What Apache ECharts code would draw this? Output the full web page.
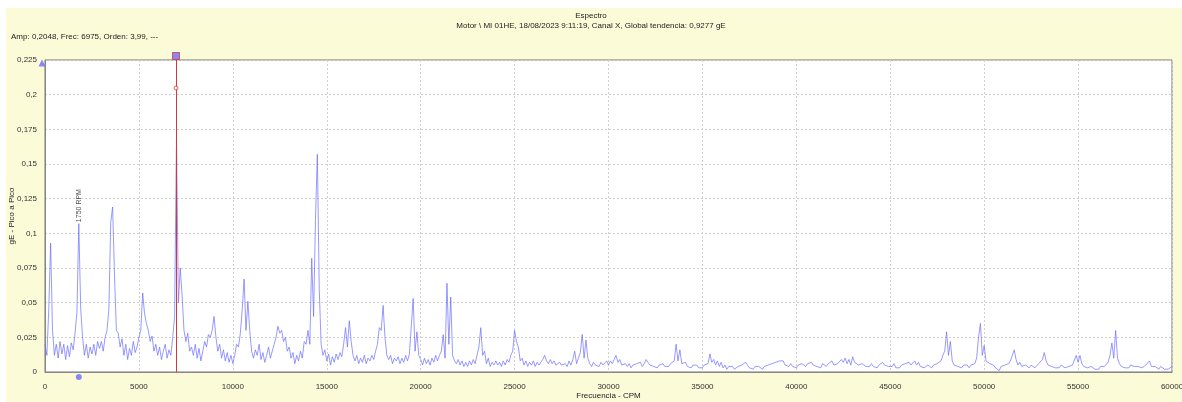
<!DOCTYPE html>
<html>
<head>
<meta charset="utf-8">
<script src="https://cdn.jsdelivr.net/npm/echarts@6/dist/echarts.min.js"></script>
<style>
html,body{margin:0;padding:0;background:#fff;}
#chart{width:1182px;height:402px;}
</style>
</head>
<body>
<div id="chart"></div>
<script>
// ---- data ----
const titleText = 'Espectro';
const subtitleText = 'Motor \\ MI 01HE, 18/08/2023 9:11:19, Canal X, Global tendencia: 0,9277 gE';
const cursorText = 'Amp: 0,2048, Frec: 6975, Orden: 3,99, ---';
const xAxisName = 'Frecuencia - CPM';
const yAxisName = 'gE - Pico a Pico';
const freqStart = 0;      // CPM of first spectral line
const freqStep = 100;     // CPM between spectral lines
const amps = [
  0.020,0.012,0.045,0.093,0.030,0.012,0.020,0.010,0.022,0.013,
  0.020,0.009,0.019,0.011,0.021,0.016,0.028,0.043,0.107,0.046,
  0.025,0.012,0.020,0.010,0.018,0.013,0.020,0.012,0.022,0.017,
  0.022,0.015,0.025,0.030,0.045,0.108,0.119,0.070,0.030,0.028,
  0.018,0.024,0.012,0.020,0.009,0.017,0.012,0.022,0.014,0.018,
  0.025,0.030,0.057,0.042,0.035,0.030,0.022,0.026,0.015,0.020,
  0.012,0.018,0.009,0.015,0.020,0.010,0.016,0.012,0.025,0.040,
  0.170,0.050,0.075,0.055,0.030,0.022,0.028,0.015,0.018,0.012,
  0.020,0.010,0.017,0.008,0.015,0.022,0.018,0.027,0.025,0.030,
  0.040,0.025,0.015,0.020,0.010,0.016,0.008,0.014,0.007,0.012,
  0.006,0.012,0.020,0.018,0.028,0.045,0.067,0.030,0.051,0.030,
  0.015,0.010,0.016,0.012,0.020,0.009,0.014,0.007,0.012,0.018,
  0.010,0.015,0.020,0.025,0.033,0.028,0.030,0.022,0.025,0.015,
  0.018,0.010,0.014,0.006,0.012,0.008,0.015,0.010,0.022,0.020,
  0.030,0.020,0.082,0.040,0.110,0.157,0.060,0.020,0.012,0.016,
  0.008,0.013,0.005,0.011,0.007,0.013,0.009,0.014,0.011,0.020,
  0.032,0.018,0.037,0.022,0.012,0.008,0.012,0.006,0.010,0.007,
  0.012,0.006,0.010,0.008,0.012,0.009,0.015,0.020,0.032,0.030,
  0.048,0.025,0.012,0.009,0.012,0.006,0.010,0.008,0.011,0.006,
  0.010,0.007,0.012,0.008,0.013,0.012,0.053,0.015,0.029,0.012,
  0.009,0.005,0.010,0.006,0.009,0.005,0.010,0.007,0.012,0.008,
  0.012,0.015,0.027,0.010,0.064,0.020,0.054,0.012,0.008,0.006,
  0.009,0.005,0.008,0.004,0.007,0.004,0.008,0.005,0.009,0.006,
  0.012,0.018,0.032,0.012,0.015,0.006,0.010,0.004,0.007,0.005,
  0.008,0.005,0.007,0.004,0.008,0.005,0.009,0.007,0.012,0.015,
  0.030,0.022,0.018,0.008,0.010,0.005,0.008,0.004,0.007,0.005,
  0.008,0.004,0.007,0.005,0.006,0.009,0.012,0.008,0.006,0.009,
  0.006,0.008,0.005,0.004,0.007,0.005,0.004,0.006,0.004,0.008,
  0.005,0.009,0.015,0.006,0.010,0.014,0.027,0.010,0.023,0.010,
  0.006,0.004,0.007,0.005,0.006,0.004,0.007,0.005,0.006,0.008,
  0.005,0.008,0.006,0.009,0.012,0.007,0.009,0.005,0.004,0.006,
  0.004,0.006,0.003,0.005,0.004,0.006,0.005,0.007,0.004,0.006,
  0.009,0.007,0.005,0.006,0.004,0.005,0.003,0.005,0.004,0.006,
  0.004,0.005,0.004,0.006,0.005,0.008,0.020,0.008,0.016,0.006,
  0.005,0.007,0.004,0.005,0.003,0.005,0.004,0.005,0.003,0.004,
  0.003,0.005,0.004,0.006,0.013,0.007,0.009,0.005,0.008,0.004,
  0.007,0.003,0.005,0.002,0.004,0.003,0.004,0.002,0.003,0.004,
  0.003,0.005,0.004,0.007,0.005,0.003,0.004,0.002,0.004,0.003,
  0.004,0.003,0.002,0.004,0.003,0.005,0.004,0.006,0.005,0.007,
  0.006,0.008,0.007,0.008,0.005,0.006,0.004,0.006,0.004,0.005,
  0.003,0.005,0.004,0.006,0.005,0.004,0.006,0.005,0.007,0.005,
  0.006,0.004,0.005,0.003,0.006,0.005,0.004,0.006,0.005,0.008,
  0.005,0.004,0.006,0.005,0.009,0.007,0.010,0.006,0.009,0.005,
  0.011,0.007,0.006,0.005,0.004,0.006,0.005,0.004,0.005,0.004,
  0.006,0.004,0.005,0.003,0.005,0.004,0.007,0.005,0.006,0.004,
  0.005,0.004,0.006,0.003,0.004,0.003,0.005,0.004,0.006,0.005,
  0.007,0.005,0.006,0.008,0.005,0.007,0.004,0.005,0.003,0.004,
  0.005,0.004,0.003,0.005,0.004,0.006,0.005,0.008,0.012,0.015,
  0.029,0.012,0.022,0.008,0.005,0.006,0.004,0.005,0.003,0.005,
  0.004,0.005,0.003,0.005,0.004,0.006,0.010,0.025,0.035,0.012,
  0.019,0.008,0.009,0.006,0.007,0.005,0.003,0.004,0.001,0.004,
  0.003,0.005,0.004,0.006,0.008,0.012,0.016,0.009,0.005,0.007,
  0.004,0.003,0.005,0.004,0.003,0.005,0.004,0.003,0.004,0.006,
  0.007,0.009,0.014,0.008,0.005,0.006,0.004,0.005,0.003,0.004,
  0.003,0.005,0.004,0.003,0.002,0.004,0.003,0.005,0.004,0.012,
  0.007,0.012,0.006,0.004,0.005,0.003,0.002,0.004,0.003,0.002,
  0.003,0.002,0.004,0.003,0.004,0.005,0.007,0.012,0.021,0.010,
  0.030,0.010,0.006,0.004,0.005,0.003,0.004,0.003,0.005,0.004,
  0.004,0.003,0.004,0.005,0.003,0.004,0.005,0.006,0.008,0.004,
  0.003,0.004,0.003,0.002,0.004,0.003,0.002,0.003,0.002,0.003,0.004
];
const cursorFreq = 6975;
const cursorAmp = 0.2048;
const rpmFreq = 1800;
const rpmPeakAmp = 0.107;
const rpmLabel = '1750 RPM';
const yMin = 0, yMax = 0.225, yInterval = 0.025;
const xMin = 0, xMax = 60000, xInterval = 5000;
const yTickLabels = ['0','0,025','0,05','0,075','0,1','0,125','0,15','0,175','0,2','0,225'];
const xTickLabels = ['0','5000','10000','15000','20000','25000','30000','35000','40000','45000','50000','55000','60000'];

// ---- chart ----
const spectrum = amps.map((a, i) => [freqStart + i * freqStep, a]);
const FONT = 'Liberation Sans';
const red = '#d03a3a';
const markBlue = '#6a6aff';

const chart = echarts.init(document.getElementById('chart'), null, {renderer: 'canvas'});
chart.setOption({
  animation: false,
  backgroundColor: '#ffffff',
  textStyle: {fontFamily: FONT},
  graphic: [{
    type: 'rect', z: -10, silent: true,
    shape: {x: 6, y: 8, width: 1176, height: 394},
    style: {fill: '#fbfbd8'}
  }],
  title: [
    {text: titleText, left: 'center', top: 7, textStyle: {fontSize: 8, fontWeight: 'normal', color: '#222', fontFamily: FONT}},
    {text: subtitleText, left: 'center', top: 17, textStyle: {fontSize: 8, fontWeight: 'normal', color: '#222', fontFamily: FONT}},
    {text: cursorText, left: 6, top: 28, textStyle: {fontSize: 8, fontWeight: 'normal', color: '#222', fontFamily: FONT}}
  ],
  grid: {
    left: 45, right: 10, top: 60, bottom: 30,
    outerBoundsMode: 'none',
    show: true, backgroundColor: '#ffffff', borderColor: '#777', borderWidth: 1,
    containLabel: false
  },
  xAxis: {
    type: 'value', min: xMin, max: xMax, interval: xInterval,
    name: xAxisName, nameLocation: 'middle', nameGap: 20, nameMoveOverlap: false,
    nameTextStyle: {fontSize: 8, color: '#222', fontFamily: FONT},
    axisLine: {show: true, lineStyle: {color: '#888', width: 1}},
    axisTick: {show: false},
    axisLabel: {
      fontSize: 8, color: '#333', margin: 11, fontFamily: FONT,
      formatter: (v) => xTickLabels[Math.round((v - xMin) / xInterval)]
    },
    splitLine: {show: true, lineStyle: {color: '#cfcfcf', type: [2, 2], width: 1}}
  },
  yAxis: {
    type: 'value', min: yMin, max: yMax, interval: yInterval,
    name: yAxisName, nameLocation: 'middle', nameGap: 29, nameRotate: 90, nameMoveOverlap: false,
    nameTextStyle: {fontSize: 8, color: '#222', fontFamily: FONT},
    axisLine: {show: true, lineStyle: {color: '#888', width: 1}},
    axisTick: {show: false},
    axisLabel: {
      fontSize: 8, color: '#333', margin: 8, fontFamily: FONT,
      formatter: (v) => yTickLabels[Math.round((v - yMin) / yInterval)]
    },
    splitLine: {show: true, lineStyle: {color: '#cfcfcf', type: [2, 2], width: 1}}
  },
  series: [
    {
      type: 'line', data: spectrum, showSymbol: false, silent: true,
      lineStyle: {color: 'rgba(110,110,255,0.7)', width: 1},
      markLine: {
        silent: true, symbol: ['none', 'none'], animation: false,
        label: {show: false},
        lineStyle: {color: red, width: 1, type: 'solid'},
        data: [{xAxis: cursorFreq}]
      },
      z: 2
    },
    { // cursor handle above plot
      type: 'scatter', clip: false, silent: true, z: 5,
      data: [[cursorFreq, yMax]], symbol: 'rect', symbolSize: 7, symbolOffset: [0, -4],
      itemStyle: {color: markBlue, borderColor: red, borderWidth: 1}
    },
    { // cursor value marker
      type: 'scatter', clip: false, silent: true, z: 5,
      data: [[cursorFreq, cursorAmp]], symbol: 'circle', symbolSize: 4,
      itemStyle: {color: '#ffffff', borderColor: red, borderWidth: 1}
    },
    { // y-axis top marker
      type: 'scatter', clip: false, silent: true, z: 5,
      data: [[xMin, yMax]], symbol: 'triangle', symbolSize: [7, 7], symbolOffset: [-3, 3],
      itemStyle: {color: markBlue}
    },
    { // running speed marker below axis
      type: 'scatter', clip: false, silent: true, z: 5,
      data: [[rpmFreq, yMin]], symbol: 'circle', symbolSize: 6, symbolOffset: [0, 5],
      itemStyle: {color: markBlue}
    },
    { // running speed label
      type: 'scatter', clip: false, silent: true, z: 6,
      data: [[rpmFreq, rpmPeakAmp]], symbol: 'circle', symbolSize: 1,
      itemStyle: {color: 'rgba(0,0,0,0)'},
      label: {
        show: true, formatter: rpmLabel, position: 'top', distance: 1, rotate: 90,
        align: 'left', verticalAlign: 'middle', fontSize: 7, color: '#222', fontFamily: FONT
      }
    }
  ]
});
</script>
</body>
</html>
